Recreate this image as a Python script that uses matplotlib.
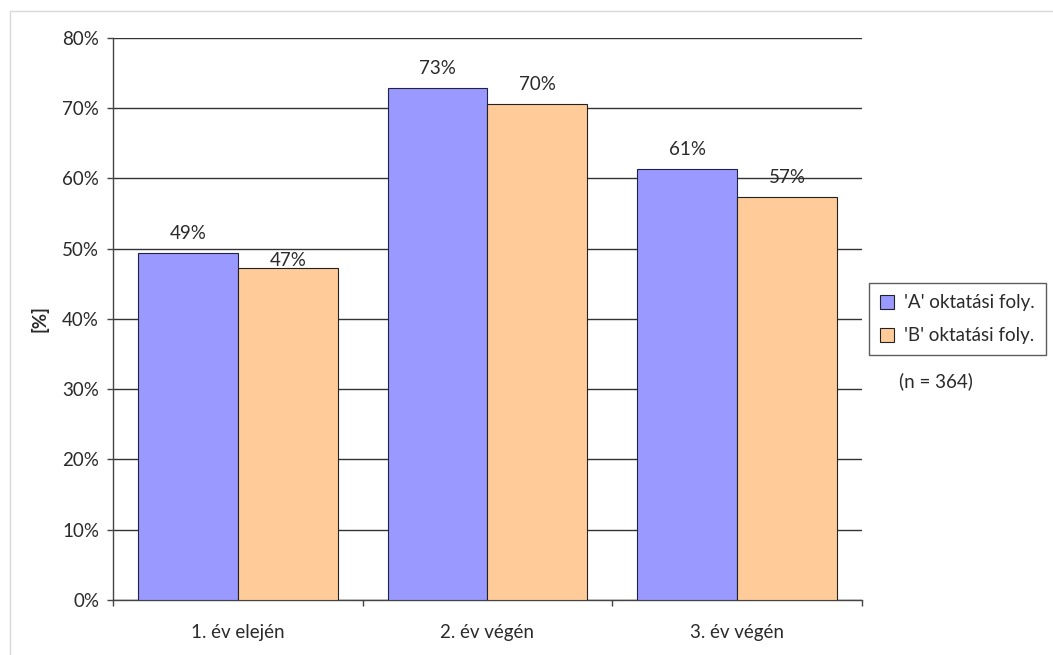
import matplotlib.pyplot as plt
import numpy as np
from matplotlib.patches import Rectangle
from matplotlib.ticker import FixedLocator, NullFormatter

categories = ['1. év elején', '2. év végén', '3. év végén']
series_a = [49.4, 72.9, 61.4]
series_b = [47.3, 70.6, 57.4]
labels_a = ['49%', '73%', '61%']
labels_b = ['47%', '70%', '57%']
legend_labels = ["'A' oktatási foly.", "'B' oktatási foly."]
note = '(n = 364)'

plt.rcParams['font.family'] = ['Lato', 'DejaVu Sans']
txt = '#2a2a2a'
fs = 13.5

fig = plt.figure(figsize=(10.53, 6.55), dpi=100)
ax = fig.add_axes([0.1073, 0.084, 0.7113, 0.858])

# light frame around chart area
fig.patches.append(Rectangle((10 / 1053, -0.01), 1.1, 1 - 11 / 655 + 0.01,
                             transform=fig.transFigure, fill=False,
                             edgecolor='#d9d9d9', lw=1))

x = np.arange(len(categories))
w = 0.4
bars_a = ax.bar(x - w / 2, series_a, w, color='#9999ff', edgecolor='#222244',
                lw=0.8, label=legend_labels[0], zorder=3)
bars_b = ax.bar(x + w / 2, series_b, w, color='#ffcc99', edgecolor='#222222',
                lw=0.8, label=legend_labels[1], zorder=3)

off_a = [8, 8, 8]
off_b = [-1, 8, 8]
for b, l, o in zip(bars_a, labels_a, off_a):
    ax.annotate(l, (b.get_x() + b.get_width() / 2, b.get_height()),
                xytext=(0, o), textcoords='offset points', ha='center',
                va='bottom', fontsize=fs, color=txt)
for b, l, o in zip(bars_b, labels_b, off_b):
    ax.annotate(l, (b.get_x() + b.get_width() / 2, b.get_height()),
                xytext=(0, o), textcoords='offset points', ha='center',
                va='bottom', fontsize=fs, color=txt)

ax.set_xlim(-0.5, 2.5)
ax.set_ylim(0, 80)
ax.set_yticks(np.arange(0, 81, 10))
ax.set_yticklabels(['%d%%' % v for v in range(0, 81, 10)], fontsize=fs, color=txt)
ax.set_xticks(x)
ax.set_xticklabels(categories, fontsize=fs, color=txt)
ax.tick_params(axis='x', which='major', length=0, pad=17)
ax.xaxis.set_minor_locator(FixedLocator([-0.5, 0.5, 1.5, 2.5]))
ax.xaxis.set_minor_formatter(NullFormatter())
ax.tick_params(axis='x', which='minor', length=4, color='#444444', width=1)
ax.tick_params(axis='y', length=4, color='#444444', width=1, pad=6)

ax.grid(axis='y', color='#333333', lw=1, zorder=0)
for s in ['top', 'right']:
    ax.spines[s].set_visible(False)
for s in ['left', 'bottom']:
    ax.spines[s].set_color('#444444')
    ax.spines[s].set_linewidth(1)

ax.set_ylabel('[%]', fontsize=fs, fontweight='bold', color=txt, labelpad=10)

leg = fig.legend(loc='upper left', bbox_to_anchor=(869 / 1053, 1 - 283 / 655),
                 fontsize=fs, frameon=True, fancybox=False, edgecolor='#333333',
                 handlelength=0.75, handleheight=0.75, handletextpad=0.5,
                 borderpad=0.6, labelspacing=0.85, borderaxespad=0)
leg.get_frame().set_linewidth(1)
for t in leg.get_texts():
    t.set_color(txt)
for h in leg.legend_handles:
    h.set_edgecolor('#222222')
    h.set_linewidth(0.8)

fig.text(936 / 1053, 1 - 381 / 655, note, ha='center', va='center',
         fontsize=fs, color=txt)

fig.savefig('out.png', dpi=100)
